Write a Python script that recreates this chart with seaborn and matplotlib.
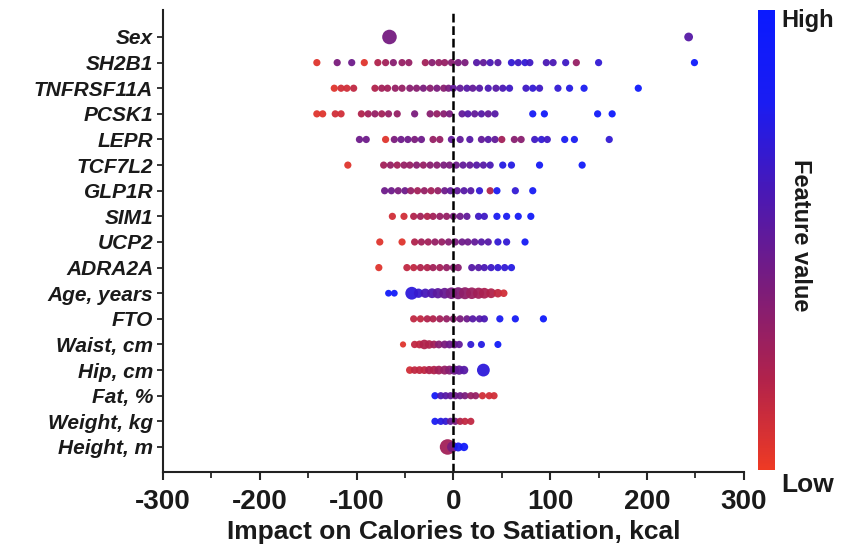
import pandas as pd
import seaborn as sns
import matplotlib.pyplot as plt
from matplotlib.colors import LinearSegmentedColormap, Normalize
from matplotlib.cm import ScalarMappable
from matplotlib.ticker import MultipleLocator

sns.set_style("ticks")
plt.rcParams["font.family"] = ["Liberation Sans", "DejaVu Sans"]
plt.rcParams["axes.unicode_minus"] = False

features = ["Sex", "SH2B1", "TNFRSF11A", "PCSK1", "LEPR", "TCF7L2", "GLP1R",
            "SIM1", "UCP2", "ADRA2A", "Age, years", "FTO", "Waist, cm",
            "Hip, cm", "Fat, %", "Weight, kg", "Height, m"]

# SHAP impact (kcal) and scaled feature value (0 = low, 1 = high) per feature
sex_x = [-66, 243]
sex_c = [0.42, 0.55]
sex_s = [110, 40]

sh2b1_x = [-141, -120, -105, -92, -78, -70, -62, -53, -46, -29, -22, -15, -9, -2, 5, 12,
           24, 31, 38, 46, 60, 67, 74, 79, 96, 103, 116, 127, 150, 249]
sh2b1_c = [0.05, 0.4, 0.45, 0.05, 0.2, 0.25, 0.35, 0.3, 0.3, 0.25, 0.35, 0.3, 0.3, 0.35, 0.4, 0.4,
           0.55, 0.5, 0.6, 0.55, 0.7, 0.65, 0.7, 0.65, 0.6, 0.6, 0.65, 0.3, 0.7, 0.95]

tnf_x = [-123, -116, -110, -103, -81, -74, -68, -60, -53, -45, -38, -31, -24, -17, -10, -5,
         0, 7, 14, 20, 27, 36, 44, 51, 58, 75, 82, 89, 108, 120, 135, 191]
tnf_c = [0.05, 0.1, 0.1, 0.15, 0.2, 0.25, 0.25, 0.3, 0.3, 0.35, 0.35, 0.4, 0.35, 0.4, 0.35, 0.4,
         0.5, 0.5, 0.55, 0.5, 0.55, 0.6, 0.55, 0.6, 0.65, 0.65, 0.7, 0.65, 0.7, 0.75, 0.8, 0.95]

pcsk1_x = [-141, -135, -122, -116, -95, -88, -81, -74, -67, -58, -40, -24, -17, -10, -4,
           9, 15, 22, 29, 36, 43, 82, 94, 149, 164]
pcsk1_c = [0.05, 0.05, 0.1, 0.1, 0.2, 0.25, 0.3, 0.25, 0.3, 0.3, 0.4, 0.35, 0.3, 0.35, 0.4,
           0.5, 0.55, 0.5, 0.55, 0.5, 0.55, 0.85, 0.9, 0.9, 0.95]

lepr_x = [-97, -90, -70, -61, -54, -47, -40, -33, -21, -14, -2, 7, 17, 29, 36, 43, 50,
          63, 70, 84, 91, 97, 115, 125, 161]
lepr_c = [0.45, 0.45, 0.05, 0.4, 0.45, 0.45, 0.4, 0.45, 0.3, 0.3, 0.5, 0.5, 0.55, 0.5, 0.55, 0.5, 0.25,
          0.35, 0.35, 0.65, 0.7, 0.65, 0.8, 0.8, 0.7]

tcf_x = [-109, -72, -65, -58, -51, -45, -38, -31, -24, -17, -10, -4, 3, 10, 17, 24, 31, 38,
         51, 60, 89, 133]
tcf_c = [0.05, 0.25, 0.3, 0.25, 0.3, 0.3, 0.35, 0.3, 0.35, 0.35, 0.4, 0.4, 0.45, 0.5, 0.5, 0.55, 0.55, 0.6,
         0.75, 0.75, 0.85, 0.9]

glp_x = [-71, -64, -57, -50, -44, -37, -30, -23, -16, -9, -3, 4, 11, 18, 27, 38, 45, 64, 82]
glp_c = [0.45, 0.45, 0.4, 0.45, 0.3, 0.25, 0.3, 0.25, 0.3, 0.45, 0.5, 0.5, 0.55, 0.55, 0.7, 0.2, 0.8, 0.7, 0.85]

sim1_x = [-63, -51, -41, -34, -27, -21, -14, -7, 0, 7, 14, 26, 32, 45, 55, 67, 80]
sim1_c = [0.1, 0.1, 0.2, 0.25, 0.2, 0.25, 0.3, 0.3, 0.4, 0.45, 0.5, 0.65, 0.65, 0.8, 0.8, 0.85, 0.9]

ucp2_x = [-76, -53, -40, -33, -26, -19, -12, -5, 2, 9, 15, 22, 29, 36, 46, 55, 74]
ucp2_c = [0.05, 0.05, 0.2, 0.25, 0.25, 0.3, 0.3, 0.35, 0.4, 0.45, 0.45, 0.5, 0.55, 0.55, 0.7, 0.7, 0.85]

adra_x = [-77, -48, -41, -34, -27, -21, -14, -7, 0, 5, 19, 26, 32, 39, 46, 53, 60]
adra_c = [0.05, 0.15, 0.15, 0.2, 0.2, 0.25, 0.25, 0.3, 0.35, 0.35, 0.55, 0.55, 0.6, 0.65, 0.7, 0.7, 0.75]

age_x = [-67, -61, -43, -36, -29, -22, -16, -9, -2, 5, 12, 19, 26, 32, 39, 46, 52]
age_c = [0.9, 0.9, 0.72, 0.68, 0.62, 0.58, 0.52, 0.48, 0.42, 0.38, 0.32, 0.28, 0.25, 0.22, 0.2, 0.15, 0.1]
age_s = [24, 24, 85, 45, 45, 50, 55, 60, 70, 75, 75, 70, 65, 60, 50, 38, 30]

fto_x = [-41, -34, -27, -21, -14, -7, 0, 7, 14, 20, 27, 32, 48, 64, 93]
fto_c = [0.15, 0.15, 0.2, 0.2, 0.25, 0.3, 0.35, 0.4, 0.45, 0.55, 0.55, 0.6, 0.8, 0.85, 0.95]

waist_x = [-52, -40, -35, -30, -25, -20, -15, -9, -4, 1, 6, 18, 29, 46]
waist_c = [0.05, 0.15, 0.15, 0.2, 0.2, 0.25, 0.35, 0.4, 0.45, 0.45, 0.5, 0.7, 0.75, 0.9]
waist_s = [20, 28, 32, 48, 38, 32, 32, 32, 32, 32, 28, 26, 26, 26]

hip_x = [-45, -40, -35, -30, -25, -20, -15, -9, -4, 1, 6, 11, 31]
hip_c = [0.1, 0.15, 0.15, 0.15, 0.2, 0.2, 0.25, 0.3, 0.35, 0.45, 0.5, 0.55, 0.72]
hip_s = [30, 30, 32, 32, 35, 38, 40, 42, 42, 45, 45, 38, 85]

fat_x = [-19, -13, -8, -3, 2, 7, 12, 18, 23, 30, 37, 42]
fat_c = [0.85, 0.6, 0.55, 0.5, 0.45, 0.45, 0.4, 0.3, 0.3, 0.1, 0.1, 0.1]

weight_x = [-19, -13, -8, -3, 2, 7, 12, 18]
weight_c = [0.8, 0.75, 0.7, 0.5, 0.4, 0.2, 0.15, 0.15]

height_x = [-6, -1, 5, 11]
height_c = [0.25, 0.4, 0.8, 0.9]
height_s = [125, 60, 42, 36]

DOT = 27

rows = [
    (sex_x, sex_c, sex_s), (sh2b1_x, sh2b1_c, None), (tnf_x, tnf_c, None),
    (pcsk1_x, pcsk1_c, None), (lepr_x, lepr_c, None), (tcf_x, tcf_c, None),
    (glp_x, glp_c, None), (sim1_x, sim1_c, None), (ucp2_x, ucp2_c, None),
    (adra_x, adra_c, None), (age_x, age_c, age_s), (fto_x, fto_c, None),
    (waist_x, waist_c, waist_s), (hip_x, hip_c, hip_s), (fat_x, fat_c, None),
    (weight_x, weight_c, None), (height_x, height_c, height_s),
]

frames = []
for name, (xs, cs, ss) in zip(features, rows):
    frames.append(pd.DataFrame({
        "feature": name,
        "impact": xs,
        "value": cs,
        "area": ss if ss is not None else [DOT] * len(xs),
    }))
df = pd.concat(frames, ignore_index=True)

cmap = LinearSegmentedColormap.from_list(
    "lowhigh", ["#ee3a24", "#b0224c", "#7a1c7c", "#4a18b4", "#1a1cf2", "#0a1aff"])

fig = plt.figure(figsize=(8.53, 5.6), dpi=100)
ax = fig.add_axes([0.191, 0.157, 0.681, 0.825])

sns.scatterplot(data=df, x="impact", y="feature", hue="value", palette=cmap,
                hue_norm=(0, 1), size="area", sizes=(15, 125), size_norm=(15, 125),
                linewidth=0, alpha=0.95, legend=False, ax=ax)

ax.axvline(0, color="black", linestyle=(0, (3.5, 1.5)), linewidth=1.8)

ax.set_xlim(-300, 300)
ax.set_ylim(16.98, -1.05)
ax.xaxis.set_major_locator(MultipleLocator(100))
ax.xaxis.set_minor_locator(MultipleLocator(50))
sns.despine(ax=ax)
for sp in ["left", "bottom"]:
    ax.spines[sp].set_linewidth(1.5)
    ax.spines[sp].set_color("#222222")

ax.tick_params(axis="x", which="major", length=6, width=1.5, labelsize=20, pad=6,
               labelcolor="#1a1a1a")
ax.tick_params(axis="x", which="minor", length=4, width=1.3)
ax.tick_params(axis="y", length=4, width=1.3, pad=3, labelcolor="#1a1a1a")
for lab in ax.get_xticklabels():
    lab.set_fontweight("bold")
for lab in ax.get_yticklabels():
    lab.set_fontweight("bold")
    lab.set_fontstyle("italic")
    lab.set_fontsize(15)

ax.set_ylabel("")
ax.set_xlabel("Impact on Calories to Satiation, kcal", fontsize=19,
              fontweight="bold", labelpad=4, color="#1a1a1a")

cax = fig.add_axes([0.889, 0.161, 0.02, 0.821])
sm = ScalarMappable(norm=Normalize(0, 1), cmap=cmap)
cbar = fig.colorbar(sm, cax=cax)
cbar.outline.set_visible(False)
cbar.set_ticks([])

fig.text(0.916, 0.964, "High", ha="left", va="center", fontsize=17,
         fontweight="bold", color="#1a1a1a")
fig.text(0.916, 0.134, "Low", ha="left", va="center", fontsize=19,
         fontweight="bold", color="#1a1a1a")
fig.text(0.939, 0.58, "Feature value", ha="center", va="center", rotation=270,
         fontsize=17, fontweight="bold", color="#1a1a1a")

fig.savefig("out.png", dpi=100)
